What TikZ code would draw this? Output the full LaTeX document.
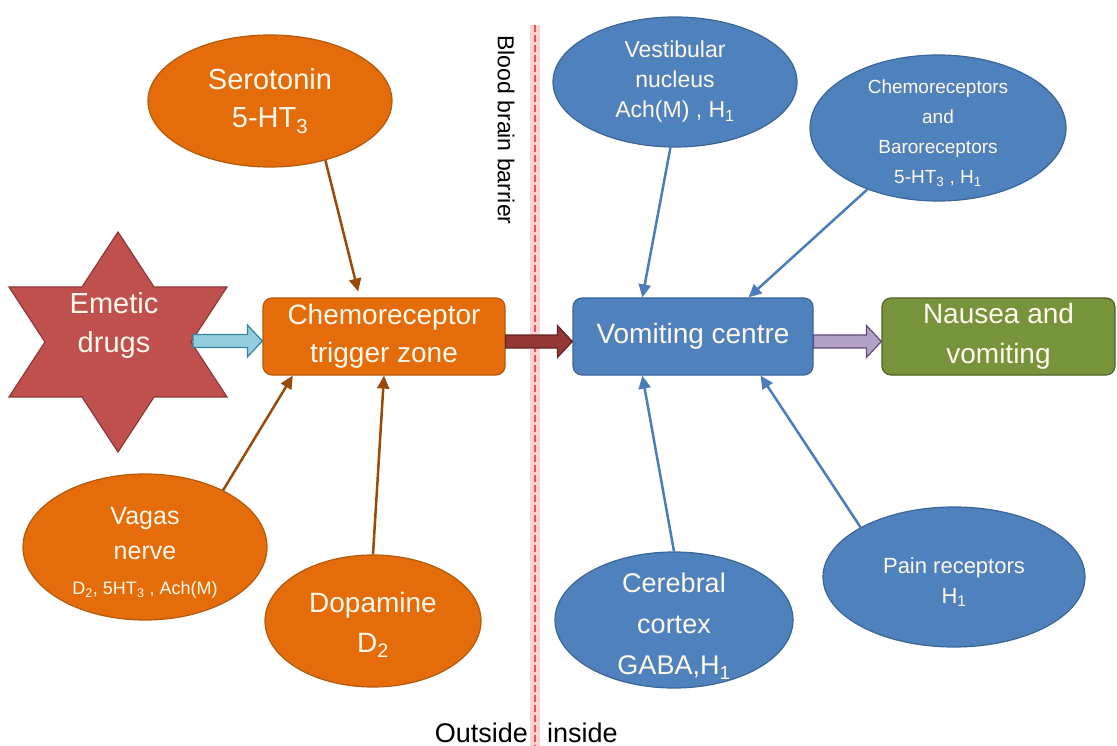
\documentclass[tikz,border=0pt]{standalone}
\usepackage{fontspec}
\setmainfont{Liberation Sans}
\usepackage{tikz}
\usetikzlibrary{arrows.meta, positioning, calc, shapes.geometric}
\usepackage{xcolor}

\definecolor{orangefill}{HTML}{E46C0A}
\definecolor{orangeline}{HTML}{B35A0C}
\definecolor{brownline}{HTML}{9A4A08}
\definecolor{bluefill}{HTML}{4F81BD}
\definecolor{blueline}{HTML}{3A6597}
\definecolor{bluearrow}{HTML}{4A7DBA}
\definecolor{greenfill}{HTML}{77933C}
\definecolor{greenline}{HTML}{4F6228}
\definecolor{starred}{HTML}{C0504D}
\definecolor{starline}{HTML}{8C3836}
\definecolor{cyanfill}{HTML}{93CDDD}
\definecolor{cyanline}{HTML}{31859C}
\definecolor{darkred}{HTML}{953735}
\definecolor{darkredline}{HTML}{632523}
\definecolor{lilac}{HTML}{B3A2C7}
\definecolor{lilacline}{HTML}{604A7B}
\definecolor{barrierglow}{HTML}{FFD3D3}
\definecolor{barrierred}{HTML}{E8545A}
\definecolor{cream}{HTML}{FFF9EC}

\newcommand{\setfs}[2]{\fontsize{#1}{#2}\selectfont}

% wide arrow from a point to the west side of a node
\newcommand{\blockarrow}[3]{%
    \draw[line width=1.2pt, #3] let \p1=(#1), \p2=(#2.west) in
        (\x1,\y1+6.5pt) -- (\x2-15pt,\y1+6.5pt) -- (\x2-15pt,\y1+16pt) -- (\x2,\y1)
        -- (\x2-15pt,\y1-16pt) -- (\x2-15pt,\y1-6.5pt) -- (\x1,\y1-6.5pt) -- cycle;
}

\tikzset{
    oval/.style={ellipse, draw=orangeline, fill=orangefill, line width=1.2pt, inner sep=0pt},
    blueoval/.style={ellipse, draw=blueline, fill=bluefill, line width=1.2pt, inner sep=0pt},
    box/.style={rectangle, rounded corners=9pt, line width=1.2pt, inner sep=0pt,
        text=cream, align=center},
    lbl/.style={text=cream, align=center, inner sep=0pt},
    feed/.style={draw=brownline, line width=2.5pt, -{Triangle[length=13pt, width=12pt]}},
    bluefeed/.style={draw=bluearrow, line width=2.5pt, -{Triangle[length=13pt, width=12pt]}}
}

\begin{document}
\begin{tikzpicture}[x=1pt, y=-1pt]
    \useasboundingbox (0,0) rectangle (1117,746);

    % Blood brain barrier
    \fill[barrierglow] (530,25) rectangle (540,746);
    \draw[barrierred, line width=1.6pt, dash pattern=on 7pt off 3pt] (535,25) -- (535,746);
    \node[rotate=-90, font=\setfs{23}{26}] (bbb) at (506,130) {Blood brain barrier};
    \node[anchor=base east, inner sep=0pt, font=\setfs{27}{30}] (outside) at (528,742) {Outside};
    \node[anchor=base west, inner sep=0pt, font=\setfs{27}{30}] (inside) at (547,742) {inside};

    % Emetic drugs
    \draw[fill=starred, draw=starline, line width=1.2pt]
        (118,232) -- (154,287) -- (227,287) -- (191,342) -- (227,397) -- (154,397)
        -- (118,452) -- (82,397) -- (9,397) -- (45,342) -- (9,287) -- (82,287) -- cycle;
    \coordinate (emeticE) at (193,341);
    \node[lbl, font=\setfs{29}{39}] (emetic) at (114,326) {Emetic\\drugs};

    % Main chain
    \node[box, fill=orangefill, draw=orangeline, minimum width=242pt, minimum height=77pt,
        font=\setfs{28}{38}] (ctz) at (384,336.5) {Chemoreceptor\\trigger zone};
    \node[box, fill=bluefill, draw=blueline, minimum width=240pt, minimum height=77pt,
        font=\setfs{28}{40}] (vc) at (693,336.5) {Vomiting centre};
    \node[box, fill=greenfill, draw=greenline, minimum width=233pt, minimum height=77pt,
        font=\setfs{28}{40}] (nausea) at (998.5,336.5) {Nausea and\\vomiting};

    \blockarrow{emeticE}{ctz}{fill=cyanfill, draw=cyanline}
    \blockarrow{[yshift=-5pt]ctz.east}{vc}{fill=darkred, draw=darkredline}
    \blockarrow{[yshift=-5pt]vc.east}{nausea}{fill=lilac, draw=lilacline}

    % Outside the barrier
    \node[oval, minimum width=244pt, minimum height=132pt] (sero) at (270,101) {};
    \node[lbl, font=\setfs{29}{38}] (serotxt) at (sero) {Serotonin\\5-HT\textsubscript{3}};
    \node[oval, minimum width=244pt, minimum height=146pt] (vagas) at (145,547) {};
    \node[lbl, font=\setfs{25}{35}] (vagastxt) at ([yshift=-6pt]vagas.center) {Vagas\\nerve\\{\setfs{18}{30}D\textsubscript{2}, 5HT\textsubscript{3} , Ach(M)}};
    \node[oval, minimum width=216pt, minimum height=132pt] (dopa) at (373,621) {};
    \node[lbl, font=\setfs{28}{40}] (dopatxt) at ([yshift=-4pt]dopa.center) {Dopamine\\D\textsubscript{2}};

    \draw[feed, shorten >=6pt] (sero.-47) -- ($(ctz.north west)!0.4!(ctz.north east)$);
    \draw[feed] (vagas.36) -- ($(ctz.south west)!0.125!(ctz.south east)$);
    \draw[feed] (dopa.north) -- (ctz.south);

    % Inside the barrier
    \node[blueoval, minimum width=244pt, minimum height=130pt] (vest) at (675,82) {};
    \node[lbl, font=\setfs{23}{30}] (vesttxt) at (vest) {Vestibular\\nucleus\\Ach(M) , H\textsubscript{1}};
    \node[blueoval, minimum width=256pt, minimum height=146pt] (chemo) at (938,128) {};
    \node[lbl, font=\setfs{19}{30}] (chemotxt) at ([yshift=-5pt]chemo.center) {Chemoreceptors\\and\\Baroreceptors\\5-HT\textsubscript{3} , H\textsubscript{1}};
    \node[blueoval, minimum width=238pt, minimum height=136pt] (cereb) at (674,620) {};
    \node[lbl, font=\setfs{27}{41}] (cerebtxt) at ([yshift=-6pt]cereb.center) {Cerebral\\cortex\\GABA,H\textsubscript{1}};
    \node[blueoval, minimum width=262pt, minimum height=140pt] (pain) at (954,577) {};
    \node[lbl, font=\setfs{22}{30}] (paintxt) at ([yshift=-5pt]pain.center) {Pain receptors\\H\textsubscript{1}};

    \foreach \src/\side/\frac in {vest.-94/north/0.29, chemo.221/north/0.73,
                                   cereb.north/south/0.29, pain.152/south/0.78}
        \draw[bluefeed] (\src) -- ($(vc.\side\space west)!\frac!(vc.\side\space east)$);
\end{tikzpicture}
\end{document}
